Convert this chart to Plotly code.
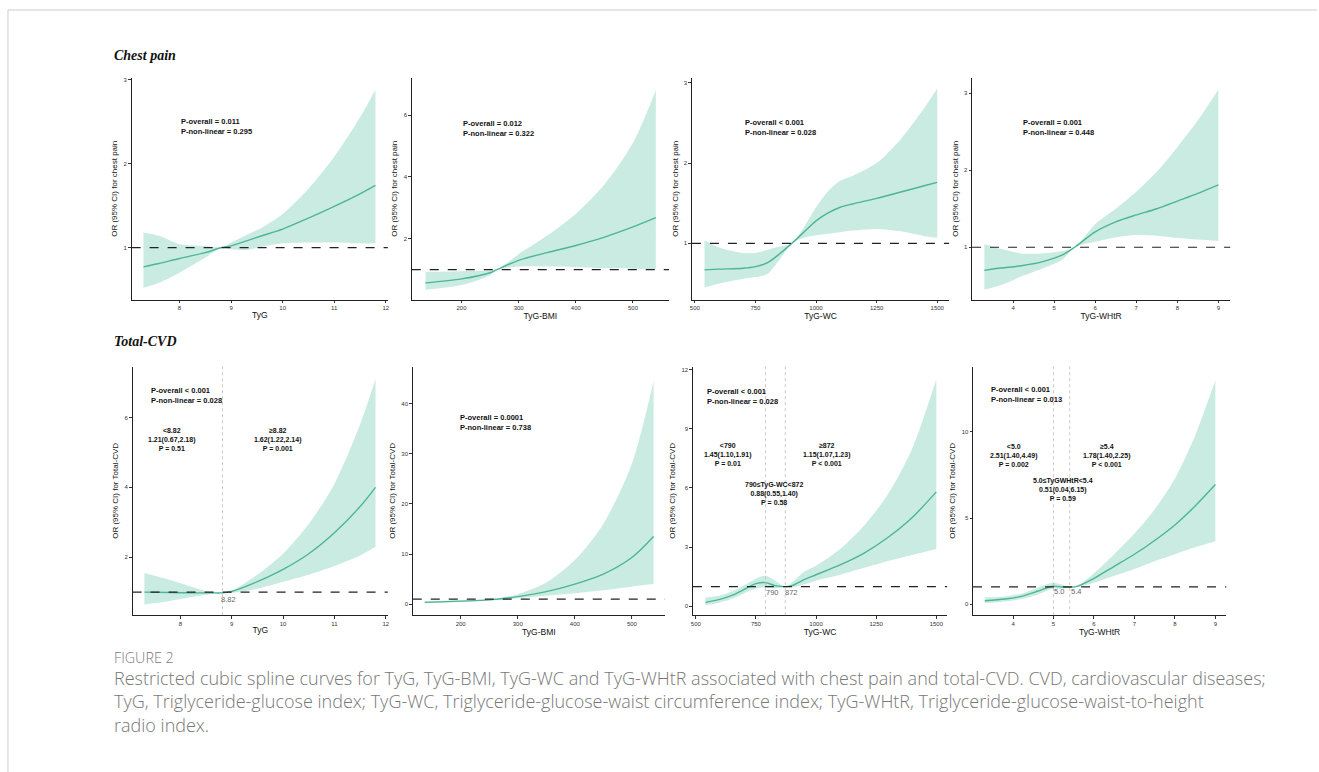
import plotly.graph_objects as go

W, H = 1319, 772

# ---------------- data ----------------
# Chest pain row
tyg_x = [7.3, 7.6, 8.0, 8.5, 8.82, 9.0, 9.3, 9.6, 10.0, 10.5, 11.0, 11.5, 11.8]
cp_tyg_or = [0.77, 0.81, 0.87, 0.94, 1.0, 1.02, 1.08, 1.14, 1.22, 1.35, 1.49, 1.64, 1.74]
cp_tyg_hi = [1.18, 1.14, 1.04, 1.02, 1.0, 1.06, 1.15, 1.24, 1.40, 1.70, 2.08, 2.55, 2.88]
cp_tyg_lo = [0.52, 0.58, 0.70, 0.88, 1.0, 0.98, 0.97, 1.01, 1.05, 1.06, 1.06, 1.05, 1.05]

bmi_x = [137, 200, 250, 262, 300, 350, 400, 450, 500, 540]
cp_bmi_or = [0.57, 0.70, 0.90, 1.0, 1.30, 1.55, 1.78, 2.05, 2.38, 2.68]
cp_bmi_hi = [0.93, 0.95, 0.97, 1.0, 1.50, 2.10, 2.80, 3.75, 5.10, 6.80]
cp_bmi_lo = [0.35, 0.50, 0.82, 1.0, 1.10, 1.10, 1.08, 1.05, 1.03, 1.02]

wc_x1 = [540, 600, 700, 750, 800, 850, 900, 950, 1000, 1050, 1100, 1150, 1250, 1350, 1450, 1500]
cp_wc_or = [0.67, 0.68, 0.69, 0.71, 0.76, 0.87, 1.0, 1.14, 1.28, 1.38, 1.45, 1.49, 1.56, 1.64, 1.72, 1.76]
cp_wc_hi = [1.04, 0.95, 0.88, 0.88, 0.92, 0.96, 1.0, 1.20, 1.45, 1.65, 1.78, 1.84, 2.00, 2.30, 2.70, 2.93]
cp_wc_lo = [0.45, 0.50, 0.56, 0.58, 0.62, 0.80, 1.0, 1.07, 1.10, 1.12, 1.14, 1.16, 1.18, 1.15, 1.09, 1.07]

whtr_x1 = [3.3, 3.7, 4.2, 4.7, 5.2, 5.5, 6.0, 6.5, 7.0, 7.5, 8.0, 8.5, 9.0]
cp_whtr_or = [0.70, 0.73, 0.76, 0.81, 0.90, 1.0, 1.20, 1.33, 1.42, 1.50, 1.60, 1.70, 1.81]
cp_whtr_hi = [1.04, 0.98, 0.92, 0.92, 0.95, 1.0, 1.30, 1.50, 1.72, 1.98, 2.30, 2.65, 3.05]
cp_whtr_lo = [0.45, 0.51, 0.62, 0.72, 0.84, 1.0, 1.07, 1.13, 1.16, 1.15, 1.12, 1.10, 1.08]

# Total-CVD row
tyg_x2 = [7.3, 7.8, 8.3, 8.6, 8.82, 9.0, 9.5, 10.0, 10.5, 11.0, 11.5, 11.8]
cvd_tyg_or = [1.0, 0.99, 0.98, 0.98, 0.98, 1.02, 1.30, 1.65, 2.10, 2.70, 3.45, 4.0]
cvd_tyg_hi = [1.55, 1.35, 1.12, 1.0, 0.99, 1.05, 1.50, 2.10, 2.95, 4.10, 5.80, 7.10]
cvd_tyg_lo = [0.65, 0.75, 0.88, 0.95, 0.97, 0.98, 1.10, 1.30, 1.50, 1.75, 2.05, 2.30]

bmi_x2 = [137, 200, 250, 300, 350, 400, 450, 500, 538]
cvd_bmi_or = [0.35, 0.60, 0.85, 1.50, 2.50, 4.00, 6.00, 9.30, 13.5]
cvd_bmi_hi = [0.60, 0.80, 1.00, 2.00, 4.30, 8.80, 16.0, 28.0, 44.5]
cvd_bmi_lo = [0.20, 0.45, 0.75, 1.20, 1.70, 2.20, 2.80, 3.50, 4.00]

wc_x2 = [540, 600, 650, 700, 750, 790, 830, 872, 900, 950, 1000, 1100, 1200, 1300, 1400, 1500]
cvd_wc_or = [0.20, 0.35, 0.55, 0.85, 1.15, 1.20, 1.05, 1.0, 1.05, 1.35, 1.60, 2.10, 2.70, 3.50, 4.50, 5.80]
cvd_wc_hi = [0.45, 0.55, 0.75, 1.05, 1.40, 1.55, 1.30, 1.0, 1.20, 1.75, 2.05, 2.90, 4.10, 5.70, 8.00, 11.5]
cvd_wc_lo = [0.05, 0.20, 0.38, 0.65, 0.90, 0.95, 0.90, 0.98, 0.95, 1.10, 1.30, 1.60, 1.95, 2.30, 2.60, 2.90]

whtr_x2 = [3.3, 3.8, 4.2, 4.6, 4.9, 5.0, 5.2, 5.4, 5.6, 6.0, 6.5, 7.0, 7.5, 8.0, 8.5, 9.0]
cvd_whtr_or = [0.20, 0.30, 0.45, 0.75, 1.0, 1.05, 1.0, 0.98, 1.05, 1.50, 2.20, 2.90, 3.70, 4.60, 5.70, 6.95]
cvd_whtr_hi = [0.40, 0.45, 0.60, 0.95, 1.20, 1.25, 1.15, 1.0, 1.10, 1.80, 2.90, 4.10, 5.50, 7.30, 9.80, 13.0]
cvd_whtr_lo = [0.05, 0.15, 0.30, 0.55, 0.85, 0.90, 0.90, 0.96, 1.0, 1.25, 1.65, 2.05, 2.50, 2.90, 3.30, 3.65]

x_titles = ["TyG", "TyG-BMI", "TyG-WC", "TyG-WHtR"] * 2
y_titles = ["OR (95% CI) for chest pain"] * 4 + ["OR (95% CI) for Total-CVD"] * 4
p_texts = [
    "P-overall = 0.011<br>P-non-linear = 0.295",
    "P-overall = 0.012<br>P-non-linear = 0.322",
    "P-overall < 0.001<br>P-non-linear = 0.028",
    "P-overall = 0.001<br>P-non-linear = 0.448",
    "P-overall < 0.001<br>P-non-linear = 0.028",
    "P-overall = 0.0001<br>P-non-linear = 0.738",
    "P-overall < 0.001<br>P-non-linear = 0.028",
    "P-overall < 0.001<br>P-non-linear = 0.013",
]
x_ticks = [[8, 9, 10, 11, 12], [200, 300, 400, 500], [500, 750, 1000, 1250, 1500], [4, 5, 6, 7, 8, 9]] * 2
y_ticks = [[1, 2, 3], [2, 4, 6], [1, 2, 3], [1, 2, 3],
           [2, 4, 6], [0, 10, 20, 30, 40], [0, 3, 6, 9, 12], [0, 5, 10]]

# cut points
cvd_cuts = {4: [8.82], 6: [790, 872], 7: [5.0, 5.4]}
cut_labels = {4: ["8.82"], 6: ["790", "872"], 7: ["5.0", "5.4"]}

# segment estimates
seg_texts = {
    4: ["<8.82<br>1.21(0.67,2.18)<br>P = 0.51", "≥8.82<br>1.62(1.22,2.14)<br>P = 0.001"],
    6: ["<790<br>1.45(1.10,1.91)<br>P = 0.01", "790≤TyG-WC<872<br>0.88(0.55,1.40)<br>P = 0.58",
        "≥872<br>1.15(1.07,1.23)<br>P < 0.001"],
    7: ["<5.0<br>2.51(1.40,4.49)<br>P = 0.002", "5.0≤TyGWHtR<5.4<br>0.51(0.04,6.15)<br>P = 0.59",
        "≥5.4<br>1.78(1.40,2.25)<br>P < 0.001"],
}

series = [
    (tyg_x, cp_tyg_or, cp_tyg_hi, cp_tyg_lo),
    (bmi_x, cp_bmi_or, cp_bmi_hi, cp_bmi_lo),
    (wc_x1, cp_wc_or, cp_wc_hi, cp_wc_lo),
    (whtr_x1, cp_whtr_or, cp_whtr_hi, cp_whtr_lo),
    (tyg_x2, cvd_tyg_or, cvd_tyg_hi, cvd_tyg_lo),
    (bmi_x2, cvd_bmi_or, cvd_bmi_hi, cvd_bmi_lo),
    (wc_x2, cvd_wc_or, cvd_wc_hi, cvd_wc_lo),
    (whtr_x2, cvd_whtr_or, cvd_whtr_hi, cvd_whtr_lo),
]

# ---------------- layout geometry (pixels) ----------------
px_x = [(130, 387), (411, 669), (692, 950), (973, 1232),
        (131, 387), (412, 665), (693, 948), (974, 1228)]
px_y = [(77, 299)] * 4 + [(366, 615)] * 4
x_ranges = [[7.07, 12.04], [113, 563], [488, 1549], [3.0, 9.29],
            [7.07, 12.04], [116, 558], [488, 1545], [3.01, 9.27]]
y_ranges = [[0.38, 3.02], [0.03, 7.2], [0.30, 3.06], [0.32, 3.2],
            [0.34, 7.46], [-2.2, 47.4], [-0.45, 12.15], [-0.64, 13.8]]

# annotation positions (data coords)
p_pos = [(7.98, 2.44), (200, 5.57), (697, 2.44), (4.19, 2.55),
         (7.38, 6.62), (196, 36.2), (537, 10.65), (3.41, 12.15)]
seg_pos = {
    4: [(7.83, 5.36), (9.9, 5.36)],
    6: [(632, 7.7), (825, 5.7), (1043, 7.7)],
    7: [(4.02, 8.62), (5.23, 6.65), (6.3, 8.62)],
}
cut_lab_pos = {4: [(8.93, 0.8)], 6: [(820, 0.7), (898, 0.7)], 7: [(5.13, 0.73), (5.56, 0.73)]}

LINE = "#4db597"
FILL = "rgba(168, 222, 207, 0.62)"
SANS = "Liberation Sans, Arial"

fig = go.Figure()
annotations = []
shapes = []

for i, (xs, mid, hi, lo) in enumerate(series):
    n = i + 1
    xa = "x" if n == 1 else f"x{n}"
    ya = "y" if n == 1 else f"y{n}"
    fig.add_trace(go.Scatter(x=xs, y=hi, mode="lines", line=dict(width=0, shape="spline", smoothing=0.8),
                             xaxis=xa, yaxis=ya, showlegend=False, hoverinfo="skip"))
    fig.add_trace(go.Scatter(x=xs, y=lo, mode="lines", line=dict(width=0, shape="spline", smoothing=0.8),
                             fill="tonexty", fillcolor=FILL,
                             xaxis=xa, yaxis=ya, showlegend=False, hoverinfo="skip"))
    fig.add_trace(go.Scatter(x=xs, y=mid, mode="lines", line=dict(color=LINE, width=1.4, shape="spline", smoothing=0.8),
                             xaxis=xa, yaxis=ya, showlegend=False))

    xd = [px_x[i][0] / W, px_x[i][1] / W]
    yd = [1 - px_y[i][1] / H, 1 - px_y[i][0] / H]
    axis_common = dict(showgrid=False, zeroline=False, showline=True, linecolor="#222", linewidth=1,
                       ticks="outside", ticklen=2.5, tickwidth=0.6, tickcolor="#333",
                       tickfont=dict(family=SANS, size=6, color="#333"))
    fig.layout[f"xaxis{'' if n == 1 else n}"] = dict(
        domain=xd, range=x_ranges[i], anchor=ya, tickvals=x_ticks[i],
        title=dict(text=x_titles[i], font=dict(family=SANS, size=8.5, color="#111"), standoff=1),
        **axis_common)
    fig.layout[f"yaxis{'' if n == 1 else n}"] = dict(
        domain=yd, range=y_ranges[i], anchor=xa, tickvals=y_ticks[i],
        title=dict(text=y_titles[i], font=dict(family=SANS, size=8, color="#111"), standoff=4),
        **axis_common)

    # reference line OR = 1
    shapes.append(dict(type="line", xref=f"{xa} domain", yref=ya, x0=0, x1=1, y0=1, y1=1,
                       line=dict(color="#222", width=1.2, dash="dash")))

    # P-values
    annotations.append(dict(x=p_pos[i][0], y=p_pos[i][1], xref=xa, yref=ya, text="<b>" + p_texts[i] + "</b>",
                            showarrow=False, xanchor="left", yanchor="middle", align="left",
                            font=dict(family=SANS, size=7.5, color="#111")))

    if i in cvd_cuts:
        for c in cvd_cuts[i]:
            shapes.append(dict(type="line", xref=xa, yref=f"{ya} domain", x0=c, x1=c, y0=0, y1=1,
                               line=dict(color="#bbbbbb", width=0.8, dash="dot")))
        for (lx, ly), t in zip(cut_lab_pos[i], cut_labels[i]):
            annotations.append(dict(x=lx, y=ly, xref=xa, yref=ya, text=t, showarrow=False,
                                    xanchor="center", yanchor="middle",
                                    font=dict(family=SANS, size=7.5, color="#666")))
        for (sx, sy), t in zip(seg_pos[i], seg_texts[i]):
            annotations.append(dict(x=sx, y=sy, xref=xa, yref=ya, text="<b>" + t + "</b>", showarrow=False,
                                    xanchor="center", yanchor="middle", align="center",
                                    font=dict(family=SANS, size=7, color="#111")))

# row titles
for txt, py in [("Chest pain", 55), ("Total-CVD", 341)]:
    annotations.append(dict(x=110 / W, y=1 - py / H, xref="paper", yref="paper", text=f"<b><i>{txt}</i></b>",
                            showarrow=False, xanchor="left", yanchor="middle",
                            font=dict(family="Liberation Serif, Times New Roman", size=14, color="#111")))

# caption
annotations.append(dict(x=110 / W, y=1 - 657 / H, xref="paper", yref="paper", text="FIGURE 2",
                        showarrow=False, xanchor="left", yanchor="middle",
                        font=dict(family="Open Sans", size=14.3, color="#7a7a7a", weight=300)))
cap_lines = [
    "Restricted cubic spline curves for TyG, TyG-BMI, TyG-WC and TyG-WHtR associated with chest pain and total-CVD. CVD, cardiovascular diseases;",
    "TyG, Triglyceride-glucose index; TyG-WC, Triglyceride-glucose-waist circumference index; TyG-WHtR, Triglyceride-glucose-waist-to-height",
    "radio index.",
]
annotations.append(dict(x=110 / W, y=1 - 664 / H, xref="paper", yref="paper", text="<br>".join(cap_lines),
                        showarrow=False, xanchor="left", yanchor="top", align="left",
                        font=dict(family="Open Sans", size=18, color="#777777", weight=300)))

# page frame
shapes.append(dict(type="line", xref="paper", yref="paper", x0=6 / W, x1=1, y0=1 - 9 / H, y1=1 - 9 / H,
                   line=dict(color="#cccccc", width=1)))
shapes.append(dict(type="line", xref="paper", yref="paper", x0=6 / W, x1=6 / W, y0=0, y1=1 - 9 / H,
                   line=dict(color="#cccccc", width=1)))

fig.update_layout(width=W, height=H, margin=dict(l=0, r=0, t=0, b=0),
                  paper_bgcolor="white", plot_bgcolor="white",
                  annotations=annotations, shapes=shapes, showlegend=False)

fig.write_html("out.html", config={"displayModeBar": False},
               post_script="document.body.style.margin='0';document.body.style.overflow='hidden';")
